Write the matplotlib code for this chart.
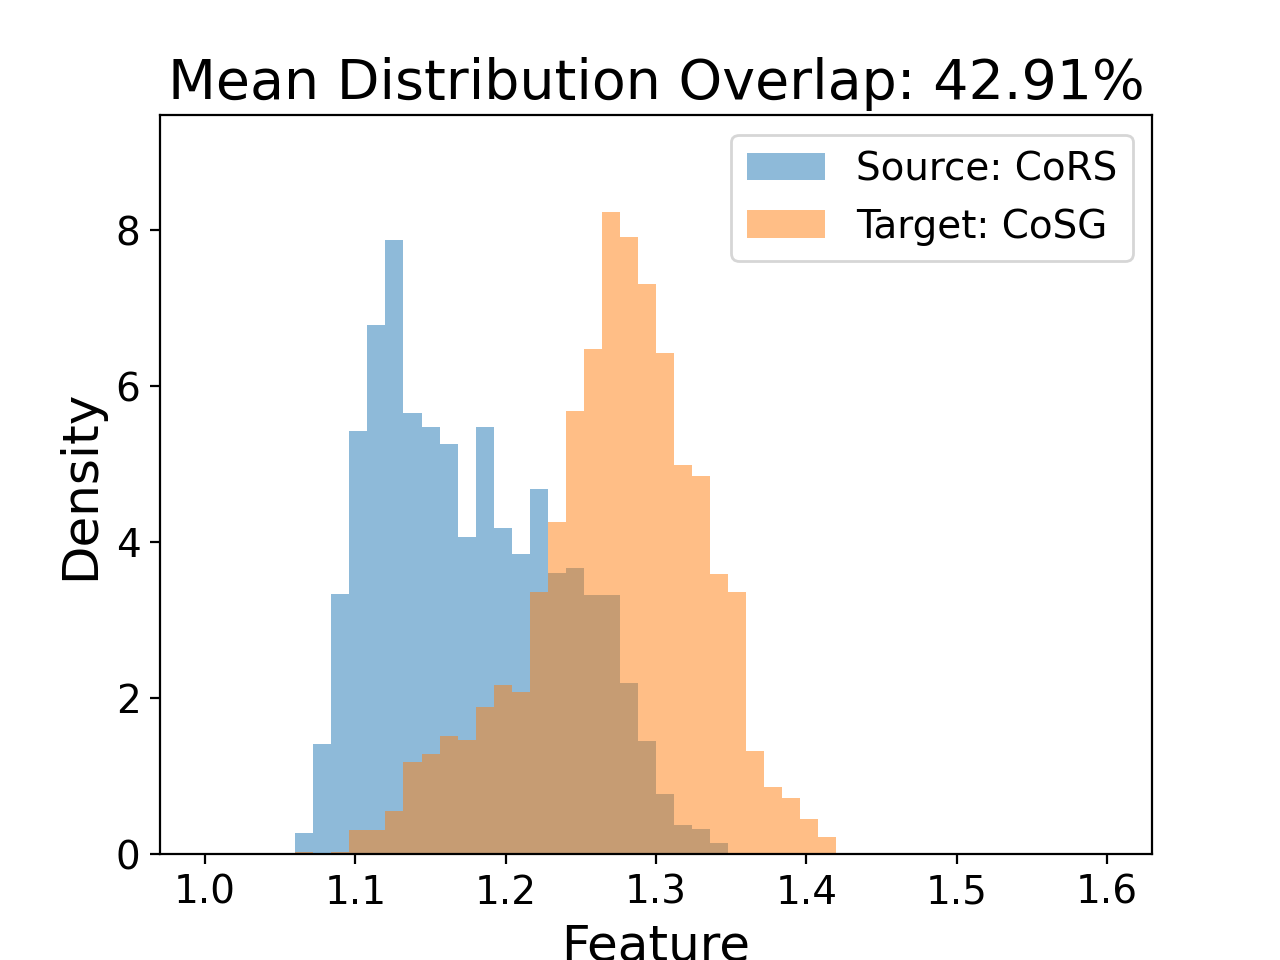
import numpy as np
import matplotlib
matplotlib.use("Agg")
import matplotlib.pyplot as plt

# Shared bin edges: 30 bins of width 0.012 from 1.06 to 1.42
bin_start = 1.06
bin_width = 0.012
n_bins = 30

source_density = [0.28, 1.41, 3.34, 5.43, 6.79, 7.87, 5.66, 5.48, 5.26, 4.07,
                  5.48, 4.18, 3.85, 4.69, 3.61, 3.67, 3.33, 3.33, 2.20, 1.45,
                  0.77, 0.38, 0.33, 0.15, 0.0, 0.0, 0.0, 0.0, 0.0, 0.0]
target_density = [0.03, 0.0, 0.03, 0.31, 0.31, 0.55, 1.18, 1.29, 1.52, 1.47,
                  1.89, 2.17, 2.08, 3.37, 4.26, 5.69, 6.48, 8.24, 7.92, 7.31,
                  6.43, 4.99, 4.85, 3.60, 3.37, 1.32, 0.87, 0.72, 0.45, 0.22]

source_label = "Source: CoRS"
target_label = "Target: CoSG"
title = "Mean Distribution Overlap: 42.91%"

edges = bin_start + bin_width * np.arange(n_bins + 1)
centers = (edges[:-1] + edges[1:]) / 2

fig, ax = plt.subplots(figsize=(6.4, 4.8), dpi=200)
ax.hist(centers, bins=edges, weights=source_density, alpha=0.5, label=source_label, color="tab:blue")
ax.hist(centers, bins=edges, weights=target_density, alpha=0.5, label=target_label, color="tab:orange")

ax.set_xlim(0.97, 1.63)
ax.set_ylim(0, max(max(source_density), max(target_density)) * 1.15)
ax.set_xticks([1.0, 1.1, 1.2, 1.3, 1.4, 1.5, 1.6])
ax.set_yticks([0, 2, 4, 6, 8])
ax.tick_params(labelsize=14)
ax.set_title(title, fontsize=20)
ax.set_xlabel("Feature", fontsize=18)
ax.set_ylabel("Density", fontsize=18)
ax.legend(fontsize=14, loc="upper right")

fig.savefig("out.png", dpi=200)
